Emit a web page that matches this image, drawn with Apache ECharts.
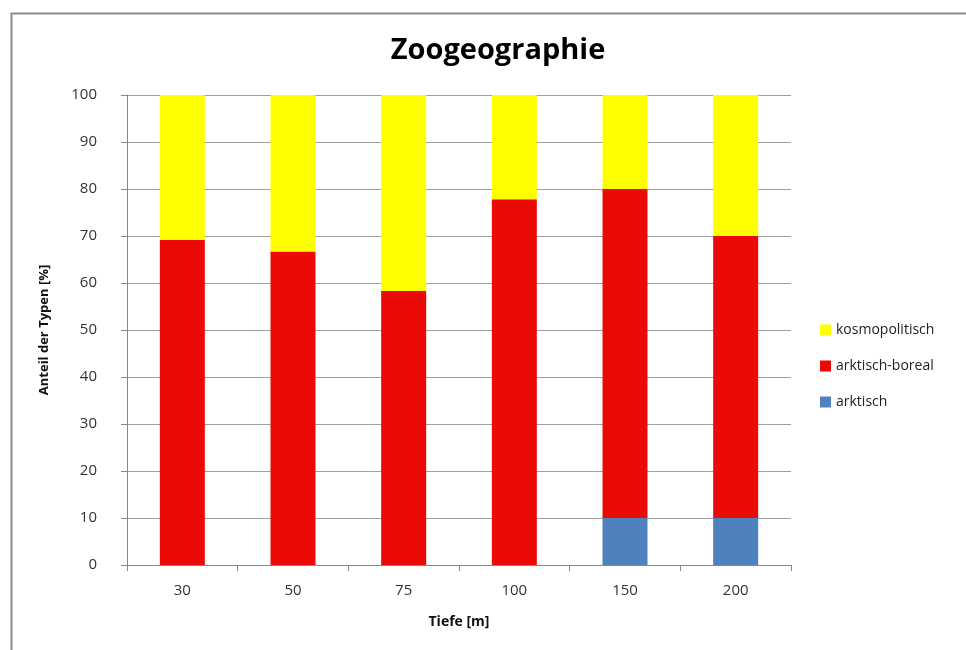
<!DOCTYPE html>
<html>
<head>
<meta charset="utf-8">
<script src="https://cdn.jsdelivr.net/npm/echarts@6/dist/echarts.min.js"></script>
<style>html,body{margin:0;padding:0;background:#fff}#c{width:966px;height:650px}</style>
</head>
<body>
<div id="c"></div>
<script>
const categories = ['30', '50', '75', '100', '150', '200'];
const arktisch = [0, 0, 0, 0, 10, 10];
const arktischBoreal = [69.2, 66.7, 58.3, 77.8, 70, 60];
const kosmopolitisch = [30.8, 33.3, 41.7, 22.2, 20, 30];
const yTicks = [0, 10, 20, 30, 40, 50, 60, 70, 80, 90, 100];

const chart = echarts.init(document.getElementById('c'));
const font = 'Open Sans, DejaVu Sans, sans-serif';
chart.setOption({
  animation: false,
  graphic: [{
    type: 'rect', left: 9, top: 11, shape: { width: 1000, height: 700 },
    style: { fill: 'none', stroke: '#8c8c8c', lineWidth: 2 }, silent: true
  }],
  title: {
    text: 'Zoogeographie', left: 493, top: 31, textAlign: 'center',
    textStyle: { fontFamily: 'Open Sans, sans-serif', fontWeight: 'bold', fontSize: 29, color: '#000' }
  },
  legend: {
    orient: 'vertical', left: 815, top: 318, itemGap: 22,
    itemWidth: 11, itemHeight: 11, icon: 'rect',
    data: ['kosmopolitisch', 'arktisch-boreal', 'arktisch'],
    textStyle: { fontFamily: font, fontSize: 14, color: '#222', padding: [0, 0, 0, 0] }
  },
  grid: { left: 127, right: 966 - 791, top: 95, bottom: 650 - 565, containLabel: false },
  xAxis: {
    type: 'category', data: categories,
    name: 'Tiefe [m]', nameLocation: 'middle', nameGap: 50,
    nameTextStyle: { fontFamily: font, fontWeight: 'bold', fontSize: 14, color: '#111' },
    axisLine: { lineStyle: { color: '#888', width: 1 } },
    axisTick: { show: true, length: 6, lineStyle: { color: '#888' } },
    axisLabel: { fontFamily: font, fontSize: 15, color: '#333', margin: 18 }
  },
  yAxis: {
    type: 'value', min: 0, max: 100, interval: 10,
    name: 'Anteil der Typen [%]', nameLocation: 'middle', nameGap: 76, nameRotate: 90,
    nameTextStyle: { fontFamily: font, fontWeight: 'bold', fontSize: 13, color: '#111' },
    axisLine: { show: true, lineStyle: { color: '#888', width: 1 } },
    axisTick: { show: true, length: 6, inside: false, lineStyle: { color: '#888' } },
    axisLabel: { fontFamily: font, fontSize: 15, color: '#333', margin: 30,
      formatter: v => yTicks.includes(v) ? String(v) : '' },
    splitLine: { lineStyle: { color: '#a0a0a0', width: 1 } }
  },
  series: [
    { name: 'arktisch', type: 'bar', stack: 's', data: arktisch, barWidth: 45, itemStyle: { color: '#4f81bd' } },
    { name: 'arktisch-boreal', type: 'bar', stack: 's', data: arktischBoreal, barWidth: 45, itemStyle: { color: '#ea0b06' } },
    { name: 'kosmopolitisch', type: 'bar', stack: 's', data: kosmopolitisch, barWidth: 45, itemStyle: { color: '#ffff00' } }
  ]
});
</script>
</body>
</html>
